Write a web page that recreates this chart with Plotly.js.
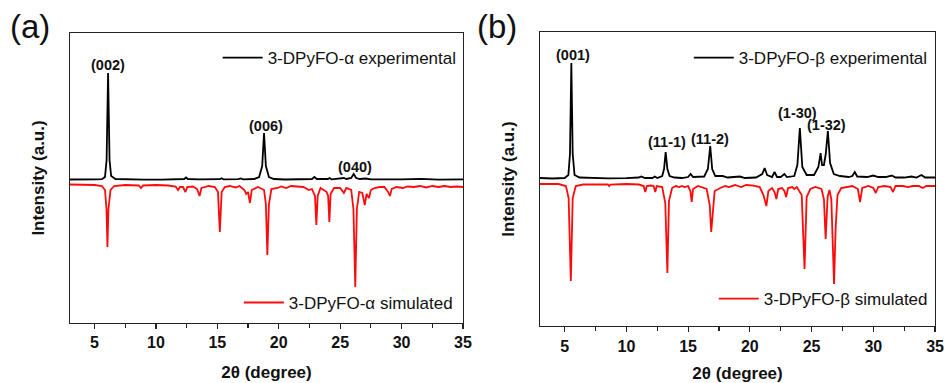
<!DOCTYPE html>
<html>
<head>
<meta charset="utf-8">
<script src="https://cdn.plot.ly/plotly-3.0.1.min.js"></script>
<style>
  html, body { margin: 0; padding: 0; background: #fff; }
  #chart { width: 946px; height: 383px; }
</style>
</head>
<body>
<div id="chart"></div>
<script>
// ---- Powder XRD patterns, 2θ in degrees, intensity in arbitrary units ----
// Experimental patterns are drawn upward from a zero baseline; simulated
// patterns are drawn downward (depth below their own baseline).

// (a) 3-DPyFO-α experimental
const alphaExpX = [3.0, 4.0, 5.0, 5.6, 5.85, 5.98, 6.1, 6.22, 6.35, 6.7, 7.5, 9.0, 10.5, 12.0, 12.3, 12.45, 12.6,
  13.5, 14.5, 15.2, 15.35, 15.5, 16.7, 16.9, 17.1, 18.0, 18.4, 18.65, 18.8, 18.95, 19.2, 19.6, 20.5, 22.0, 22.7,
  22.9, 23.1, 24.0, 24.15, 24.3, 25.1, 25.3, 25.5, 25.9, 26.1, 26.3, 26.6, 27.1, 27.5, 28.5, 30.0, 31.6, 33.0, 35.0];
const alphaExpY = [0.5, 0.3, 0.6, 0.8, 3, 20, 107, 20, 4, 1, 0.5, 0.3, 0.4, 0.6, 1, 2.5, 1,
  0.6, 0.4, 0.8, 1.8, 0.6, 0.8, 1.5, 0.6, 1, 3, 14, 47, 14, 3, 1, 0.5, 0.6, 1,
  3, 1, 1, 2, 0.6, 1.2, 2, 1, 2, 6, 2, 1, 1.5, 0.6, 0.4, 0.6, 1.2, 0.4, 0.6];

// (a) 3-DPyFO-α simulated (depth values)
const alphaSimX = [3.0, 4.0, 5.0, 5.6, 5.85, 5.97, 6.05, 6.13, 6.3, 6.6, 7.5, 8.6, 8.78, 8.95, 10.0, 11.0, 11.6, 11.8,
  11.95, 12.2, 12.4, 12.55, 13.0, 13.35, 13.55, 13.7, 14.3, 14.8, 15.05, 15.2, 15.35, 15.6, 16.0, 16.5, 16.8, 17.2,
  17.35, 17.5, 17.65, 17.8, 18.3, 18.8, 18.95, 19.07, 19.2, 19.4, 19.9, 20.2, 20.6, 21.0, 21.5, 22.0, 22.45, 22.7,
  22.95, 23.06, 23.17, 23.4, 23.9, 24.02, 24.12, 24.22, 24.5, 25.0, 25.3, 25.5, 25.9, 26.08, 26.23, 26.36, 26.55,
  26.8, 27.0, 27.15, 27.35, 27.5, 27.8, 28.2, 28.6, 28.9, 29.05, 29.2, 29.6, 30.1, 30.5, 31.0, 31.5, 32.0, 32.5,
  33.0, 33.5, 34.0, 34.5, 35.0];
const alphaSimD = [0.5, 0.8, 1, 2, 6, 25, 63, 25, 6, 2, 1, 1.5, 4, 1.5, 1, 1.5, 2.5, 6,
  3, 3, 8, 3, 2.5, 5, 12, 4, 2, 3, 8, 48, 8, 3, 2, 3.5, 2, 6,
  10, 8, 19, 6, 3, 6, 20, 71, 20, 5, 4, 2.5, 4, 2, 2.5, 3, 6, 5,
  12, 41, 12, 4, 8, 12, 38, 10, 4, 4, 9, 4, 6, 25, 103, 25, 8,
  9, 21, 10, 14, 6, 4, 3, 3, 8, 12, 5, 3, 4, 2.5, 3, 2, 3.5, 2,
  3, 2, 3, 2.5, 3];

// (b) 3-DPyFO-β experimental
const betaExpX = [3.0, 4.0, 5.0, 5.3, 5.43, 5.54, 5.65, 5.8, 6.2, 7.0, 8.5, 10.0, 11.0, 11.2, 11.5, 12.1, 12.3, 12.5,
  12.9, 13.05, 13.18, 13.32, 13.5, 13.9, 14.5, 15.0, 15.2, 15.4, 16.3, 16.6, 16.79, 16.95, 17.2, 17.8, 18.2, 19.2,
  19.6, 20.5, 21.0, 21.2, 21.4, 21.8, 22.0, 22.2, 22.5, 22.8, 23.0, 23.6, 23.85, 24.05, 24.25, 24.6, 25.2, 25.55,
  25.73, 25.85, 26.0, 26.15, 26.32, 26.5, 26.8, 27.3, 28.0, 28.3, 28.5, 28.7, 29.5, 30.0, 30.4, 31.0, 31.5, 31.8,
  32.5, 33.1, 33.5, 33.9, 34.2, 35.0];
const betaExpY = [1, 0.5, 1, 4, 25, 116, 25, 4, 1.5, 1, 0.6, 0.8, 1.5, 2.5, 1, 1, 2.5, 1,
  3, 10, 27, 10, 3, 1.5, 1, 2, 5, 2, 2.5, 10, 33, 10, 3, 3, 1.5, 2.5,
  1, 1.5, 5, 11, 4, 2, 7, 2, 2, 5, 2, 3, 14, 51, 12, 4, 4, 12,
  26, 14, 14, 25, 48, 16, 5, 3, 2, 3, 7, 2.5, 2, 3.5, 2, 2, 3.5, 1.5,
  1.5, 2.5, 1.5, 4, 1.5, 1.5];

// (b) 3-DPyFO-β simulated (depth values)
const betaSimX = [3.0, 4.5, 5.1, 5.32, 5.5, 5.65, 5.9, 6.5, 8.5, 8.6, 8.7, 10.0, 11.0, 11.4, 11.53, 11.65, 12.0, 12.2,
  12.34, 12.45, 12.9, 13.15, 13.32, 13.45, 13.7, 14.0, 14.3, 14.5, 14.7, 15.0, 15.18, 15.29, 15.4, 15.8, 16.5, 16.75,
  16.87, 17.0, 17.15, 17.6, 18.0, 18.3, 18.8, 19.3, 19.7, 20.3, 20.8, 21.1, 21.34, 21.5, 21.8, 22.0, 22.15, 22.3,
  22.6, 22.8, 22.94, 23.1, 23.45, 23.6, 23.8, 24.2, 24.43, 24.6, 24.9, 25.3, 25.8, 26.0, 26.14, 26.3, 26.45, 26.6,
  26.82, 26.95, 27.1, 27.4, 27.8, 28.3, 28.75, 28.93, 29.1, 29.6, 30.0, 30.2, 30.4, 30.9, 31.4, 31.6, 31.8, 32.4,
  32.8, 33.2, 33.7, 34.0, 34.3, 35.0];
const betaSimD = [1, 1, 3, 15, 98, 15, 3, 1.5, 1.5, 3, 1.5, 1, 1.5, 3, 9, 3, 2.5, 3,
  9, 3, 4, 20, 90, 18, 5, 3, 4, 3, 4, 3, 8, 19, 6, 3, 6, 22,
  49, 30, 8, 5, 3, 4, 2, 4, 2, 2.5, 4, 12, 23, 8, 5, 9, 16, 6,
  5, 8, 14, 5, 4, 6, 4, 12, 86, 14, 6, 4, 6, 16, 56, 14, 7, 16,
  101, 45, 12, 5, 4, 3, 6, 19, 5, 3, 5, 10, 4, 3, 4, 9, 3, 3,
  4, 3, 3, 5, 3, 3];

// Baseline offsets of the inverted simulated patterns
const alphaSimOffset = -4;
const betaSimOffset = -4;

// Reflection labels
const alphaHkl = ['(002)', '(006)', '(040)'];
const alphaHklX = [6.1, 19.0, 26.17];
const alphaHklY = [115, 54, 13];
const betaHkl = ['(001)', '(11-1)', '(11-2)', '(1-30)', '(1-32)'];
const betaHklX = [5.68, 13.26, 16.76, 23.89, 26.2];
const betaHklY = [124, 37, 40, 66.5, 54];

const tickVals = [5, 10, 15, 20, 25, 30, 35];
const tickText = ['5', '10', '15', '20', '25', '30', '35'];

const FONT = 'Liberation Sans, Arial, sans-serif';
const BLACK = '#000000';
const RED = '#ff0a0a';

const down = (d, off) => d.map(v => off - v);

const traces = [
  { x: alphaExpX, y: alphaExpY, xaxis: 'x', yaxis: 'y', name: '3-DPyFO-α experimental',
    mode: 'lines', line: { color: BLACK, width: 1.8 }, legend: 'legend' },
  { x: alphaSimX, y: down(alphaSimD, alphaSimOffset), xaxis: 'x', yaxis: 'y', name: '3-DPyFO-α simulated',
    mode: 'lines', line: { color: RED, width: 1.8 }, legend: 'legend2' },
  { x: betaExpX, y: betaExpY, xaxis: 'x2', yaxis: 'y2', name: '3-DPyFO-β experimental',
    mode: 'lines', line: { color: BLACK, width: 1.8 }, legend: 'legend3' },
  { x: betaSimX, y: down(betaSimD, betaSimOffset), xaxis: 'x2', yaxis: 'y2', name: '3-DPyFO-β simulated',
    mode: 'lines', line: { color: RED, width: 1.8 }, legend: 'legend4' }
];

function xAxis(domain, anchor) {
  return {
    domain: domain, anchor: anchor, range: [3, 35],
    tickmode: 'array', tickvals: tickVals, ticktext: tickText.map(t => '<b>' + t + '</b>'),
    ticks: 'outside', ticklen: 5, tickwidth: 1.2, tickcolor: '#222',
    minor: { dtick: 2.5, tick0: 2.5, ticks: 'outside', ticklen: 4, tickwidth: 1.2, tickcolor: '#222' },
    showline: true, linecolor: '#222', linewidth: 1.3, mirror: true,
    showgrid: false, zeroline: false,
    tickfont: { family: FONT, size: 16, color: '#111' },
    title: { text: '<b>2θ (degree)</b>', font: { family: FONT, size: 17, color: '#111' }, standoff: 15 }
  };
}
function yAxis(domain, anchor, range) {
  return {
    domain: domain, anchor: anchor, range: range,
    showticklabels: false, ticks: '',
    showline: true, linecolor: '#222', linewidth: 1.3, mirror: true,
    showgrid: false, zeroline: false,
    title: { text: '<b>Intensity (a.u.)</b>', font: { family: FONT, size: 17, color: '#111' }, standoff: 19 }
  };
}

function legendAt(x, y) {
  return {
    x: x, y: y, xanchor: 'right', yanchor: 'middle', bgcolor: 'rgba(0,0,0,0)', borderwidth: 0,
    font: { family: FONT, size: 17, color: '#111' }, itemwidth: 40, tracegroupgap: 0
  };
}

const annotations = [];
alphaHkl.forEach((t, i) => annotations.push({
  xref: 'x', yref: 'y', x: alphaHklX[i], y: alphaHklY[i], text: '<b>' + t + '</b>', showarrow: false,
  xanchor: 'center', yanchor: 'middle', font: { family: FONT, size: 14.5, color: '#111' }
}));
betaHkl.forEach((t, i) => annotations.push({
  xref: 'x2', yref: 'y2', x: betaHklX[i], y: betaHklY[i], text: '<b>' + t + '</b>', showarrow: false,
  xanchor: 'center', yanchor: 'middle', font: { family: FONT, size: 14.5, color: '#111' }
}));
annotations.push({ xref: 'paper', yref: 'paper', x: 0.008, y: 0.93, text: '(a)', showarrow: false,
  xanchor: 'left', yanchor: 'middle', font: { family: FONT, size: 33, color: '#111' } });
annotations.push({ xref: 'paper', yref: 'paper', x: 0.502, y: 0.93, text: '(b)', showarrow: false,
  xanchor: 'left', yanchor: 'middle', font: { family: FONT, size: 33, color: '#111' } });

const layout = {
  width: 946, height: 383,
  margin: { l: 0, r: 0, t: 0, b: 0 },
  paper_bgcolor: '#ffffff', plot_bgcolor: '#ffffff',
  showlegend: true,
  xaxis: xAxis([0.0740, 0.4894], 'y'),
  yaxis: yAxis([0.1567, 0.9138], 'x', [-143, 147]),
  xaxis2: xAxis([0.5708, 0.9884], 'y2'),
  yaxis2: yAxis([0.1488, 0.9164], 'x2', [-147, 147]),
  legend: legendAt(0.488, 0.8486),
  legend2: legendAt(0.484, 0.209),
  legend3: legendAt(0.986, 0.8486),
  legend4: legendAt(0.986, 0.219),
  annotations: annotations
};

Plotly.newPlot('chart', traces, layout, { displayModeBar: false, staticPlot: true });
</script>
</body>
</html>
